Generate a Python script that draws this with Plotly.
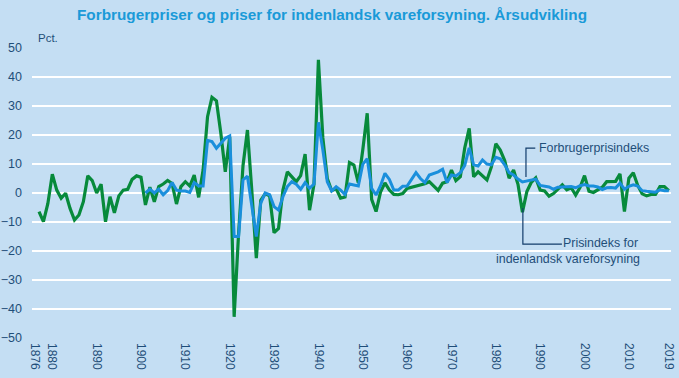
import plotly.graph_objects as go

years_vare = list(range(1877, 2020))
vareforsyning = [
    -6.4, -9.9, -3.6, 6.5, 1.0, -1.8, -0.1, -5.3, -9.3, -7.6,
    -3.0, 5.9, 4.3, 0.0, 3.0, -9.9, -1.3, -6.8, -1.0, 1.0,
    1.3, 4.7, 5.9, 5.4,
    -4.1, 2.0, -3.0, 2.2, 3.1, 4.3, 3.3, -3.8, 2.2, 3.9,
    2.4, 6.2, -1.5, 7.9, 26.3, 33.0, 31.8, 20.6, 7.3, 19.4,
    -42.7, -14.0, 9.5, 21.7, 0.5, -22.5, -2.5, -0.3, -1.0, -13.7,
    -12.2, 1.0, 7.3, 5.6, 3.9, 6.0, 13.4, -5.9, 3.0, 45.9,
    19.0, 5.0, 0.8, 1.5, -1.8, -1.4, 10.5, 9.6, 3.5, 14.8,
    27.5, -2.2, -6.4, 0.3, 3.5, 1.0, -0.5, -0.6, -0.2, 1.6,
    2.0, 2.5, 2.8, 3.2, 3.9, 2.4, 0.9, 3.4, 3.9, 7.9,
    4.3, 5.6, 15.6, 22.3, 5.6, 7.3, 6.0, 4.5, 9.0, 17.0,
    14.8, 11.2, 5.1, 7.9, 3.0, -6.6, 0.5, 3.7, 5.2, 1.0,
    0.7, -1.1, -0.2, 1.2, 2.8, 1.1, 1.8, -0.7, 2.0, 6.0,
    0.6, 0.2, 1.0, 2.0, 3.9, 3.9, 4.0, 6.6, -6.4, 5.1,
    7.0, 2.6, -0.3, -1.0, -0.5, -0.5, 2.2, 2.2, 0.8,
]

years_fpi = list(range(1901, 2020))
forbrugerpris = [
    0.0, 1.3, 0.0, 1.3, -0.6, 0.8, 3.6, 1.0, 0.7, 0.7,
    0.2, 3.6, 2.4, 2.4, 18.1, 17.7, 15.4, 17.1, 18.9, 19.7,
    -15.0, -15.0, 4.5, 5.8, -4.0, -15.0, -3.5, 0.0, -0.6, -4.7,
    -5.9, -1.3, 2.2, 3.9, 3.0, 1.3, 3.6, 1.6, 3.1, 24.4,
    14.8, 3.9, 0.7, 2.2, 1.0, -0.5, 3.1, 2.7, 2.4, 9.9,
    11.8, 1.6, -0.7, 2.5, 6.8, 4.7, 1.0, 1.0, 2.3, 2.4,
    4.5, 7.0, 5.0, 3.6, 6.2, 6.8, 7.3, 8.2, 3.6, 6.2,
    5.9, 7.0, 9.5, 15.6, 9.7, 9.3, 11.4, 10.0, 9.7, 12.3,
    11.8, 9.7, 7.0, 6.2, 4.8, 3.8, 4.1, 4.6, 4.8, 2.6,
    2.4, 2.1, 1.3, 2.0, 2.1, 2.1, 2.2, 1.8, 2.5, 2.9,
    2.4, 2.4, 2.1, 1.2, 1.8, 1.9, 1.7, 3.4, 1.3, 2.3,
    2.8, 2.4, 0.8, 0.6, 0.5, 0.3, 1.1, 0.8, 0.8,
]

x_ticks = [1876, 1880, 1890, 1900, 1910, 1920, 1930, 1940, 1950,
           1960, 1970, 1980, 1990, 2000, 2010, 2019]
y_ticks = [-50, -40, -30, -20, -10, 0, 10, 20, 30, 40, 50]

FONT = "Liberation Sans, Arial, sans-serif"
TXT = "#1f4e79"
BG = "#c4def3"

fig = go.Figure()
fig.add_trace(go.Scatter(x=years_vare, y=vareforsyning, mode="lines",
                         line=dict(color="#078a3b", width=3.2),
                         name="Prisindeks for indenlandsk vareforsyning"))
fig.add_trace(go.Scatter(x=years_fpi, y=forbrugerpris, mode="lines",
                         line=dict(color="#1a8fdc", width=3),
                         name="Forbrugerprisindeks"))

# connector lines
fig.add_shape(type="path", path="M 1986.8 5.5 L 1986.8 15.5 L 1988.9 15.5",
              xref="x", yref="y", line=dict(color="#123d6b", width=1.2))
fig.add_shape(type="path", path="M 1986.1 -5.2 L 1986.1 -17.6 L 1994.9 -17.6",
              xref="x", yref="y", line=dict(color="#123d6b", width=1.2))

fig.add_annotation(x=1989.2, y=15.5, xref="x", yref="y", text="Forbrugerprisindeks",
                   showarrow=False, xanchor="left", yanchor="middle",
                   font=dict(family=FONT, size=12.4, color=TXT))
fig.add_annotation(x=2012.6, y=-17.4, xref="x", yref="y", text="Prisindeks for",
                   showarrow=False, xanchor="right", yanchor="middle",
                   font=dict(family=FONT, size=12.4, color=TXT))
fig.add_annotation(x=2012.9, y=-22.6, xref="x", yref="y", text="indenlandsk vareforsyning",
                   showarrow=False, xanchor="right", yanchor="middle",
                   font=dict(family=FONT, size=12.4, color=TXT))
fig.add_annotation(x=0.006, y=1.034, xref="paper", yref="paper", text="Pct.",
                   showarrow=False, xanchor="left", yanchor="middle",
                   font=dict(family=FONT, size=11.5, color=TXT))

fig.update_layout(
    width=679, height=378,
    margin=dict(l=32, r=8, t=48, b=40, autoexpand=False),
    paper_bgcolor=BG, plot_bgcolor=BG,
    showlegend=False,
    hovermode=False,
    title=dict(text="<b>Forbrugerpriser og priser for indenlandsk vareforsyning. Årsudvikling</b>",
               x=0.489, xanchor="center", xref="container",
               y=0.962, yanchor="middle", yref="container",
               font=dict(family=FONT, size=15.3, color="#1a9ad8")),
    font=dict(family=FONT, size=12, color=TXT),
)
fig.update_xaxes(range=[1875.42, 2019.5], tickvals=x_ticks, tickangle=90,
                 showgrid=False, zeroline=False, showline=False, automargin=False,
                 ticks="", ticklabelstandoff=4,
                 tickfont=dict(family=FONT, size=12, color=TXT))
fig.update_yaxes(range=[-50, 50], tickvals=y_ticks, showgrid=True,
                 gridcolor="white", gridwidth=1.5, zeroline=False, automargin=False,
                 showline=False, ticks="", ticklabelstandoff=9,
                 tickfont=dict(family=FONT, size=12.5, color=TXT))

fig.write_html("out.html", config={"displayModeBar": False, "staticPlot": True},
               post_script="document.body.style.margin='0';document.body.style.overflow='hidden';")
